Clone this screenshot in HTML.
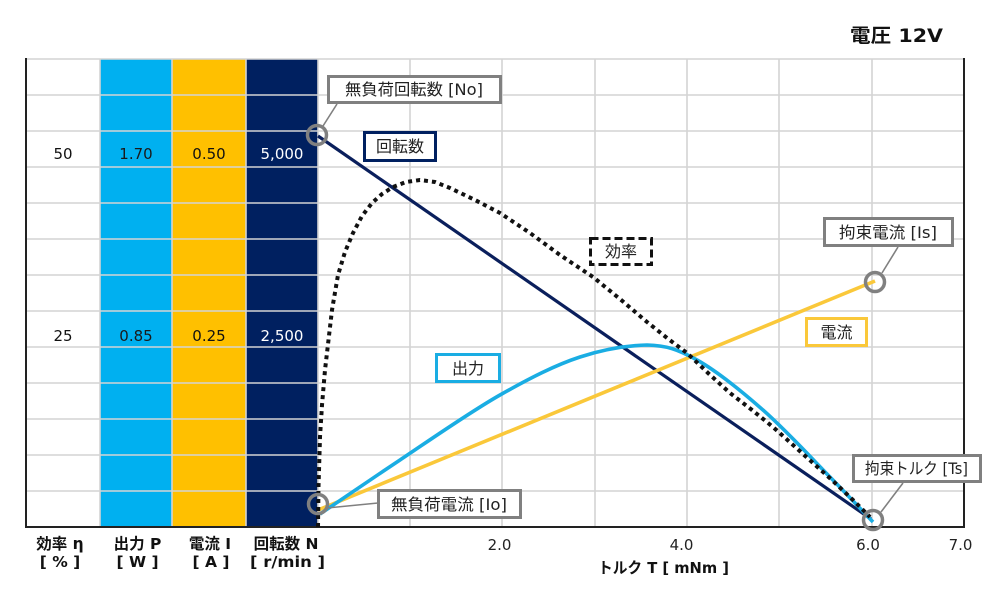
<!DOCTYPE html>
<html>
<head>
<meta charset="utf-8">
<style>
  html,body{margin:0;padding:0;background:#fff;}
  svg{display:block;}
  .num{font-family:"DejaVu Sans","Liberation Sans",sans-serif;font-size:15px;text-anchor:middle;}
  .jp{font-family:"DejaVu Sans","Noto Sans CJK JP",sans-serif;font-size:16px;text-anchor:middle;fill:#222;}
  .bl{font-family:"DejaVu Sans","Noto Sans CJK JP",sans-serif;font-size:15.5px;font-weight:bold;text-anchor:middle;fill:#111;}
</style>
</head>
<body>
<svg width="1000" height="602" viewBox="0 0 1000 602" xmlns="http://www.w3.org/2000/svg">
  <rect x="0" y="0" width="1000" height="602" fill="#fff"/>

  <!-- colored columns -->
  <rect x="100" y="59" width="72" height="468" fill="#00B0F0"/>
  <rect x="172" y="59" width="74" height="468" fill="#FFC000"/>
  <rect x="246" y="59" width="72" height="468" fill="#002060"/>

  <!-- horizontal gridlines -->
  <g stroke="#D4D4D4" stroke-width="1.6">
    <line x1="26" y1="59" x2="964" y2="59"/>
    <line x1="26" y1="95" x2="964" y2="95"/>
    <line x1="26" y1="131" x2="964" y2="131"/>
    <line x1="26" y1="167" x2="964" y2="167"/>
    <line x1="26" y1="203" x2="964" y2="203"/>
    <line x1="26" y1="239" x2="964" y2="239"/>
    <line x1="26" y1="275" x2="964" y2="275"/>
    <line x1="26" y1="311" x2="964" y2="311"/>
    <line x1="26" y1="347" x2="964" y2="347"/>
    <line x1="26" y1="383" x2="964" y2="383"/>
    <line x1="26" y1="419" x2="964" y2="419"/>
    <line x1="26" y1="455" x2="964" y2="455"/>
    <line x1="26" y1="491" x2="964" y2="491"/>
  </g>
  <!-- vertical gridlines -->
  <g stroke="#D4D4D4" stroke-width="1.6">
    <line x1="100" y1="59" x2="100" y2="527"/>
    <line x1="172" y1="59" x2="172" y2="527"/>
    <line x1="246" y1="59" x2="246" y2="527"/>
    <line x1="318" y1="59" x2="318" y2="527"/>
    <line x1="410" y1="59" x2="410" y2="527"/>
    <line x1="502" y1="59" x2="502" y2="527"/>
    <line x1="595" y1="59" x2="595" y2="527"/>
    <line x1="687" y1="59" x2="687" y2="527"/>
    <line x1="779" y1="59" x2="779" y2="527"/>
    <line x1="872" y1="59" x2="872" y2="527"/>
  </g>

  <!-- axes -->
  <line x1="26" y1="58" x2="26" y2="528" stroke="#222" stroke-width="2"/>
  <line x1="25" y1="527" x2="965" y2="527" stroke="#222" stroke-width="2"/>
  <line x1="964" y1="58" x2="964" y2="528" stroke="#222" stroke-width="2"/>

  <!-- column values -->
  <text class="num" x="63" y="159" fill="#111">50</text>
  <text class="num" x="136" y="159" fill="#1a1a1a">1.70</text>
  <text class="num" x="209" y="159" fill="#111">0.50</text>
  <text class="num" x="282" y="159" fill="#fff">5,000</text>
  <text class="num" x="63" y="341" fill="#111">25</text>
  <text class="num" x="136" y="341" fill="#1a1a1a">0.85</text>
  <text class="num" x="209" y="341" fill="#111">0.25</text>
  <text class="num" x="282" y="341" fill="#fff">2,500</text>

  <!-- curves -->
  <line x1="318" y1="136" x2="871" y2="519" stroke="#0A1F5C" stroke-width="3.2"/>
  <line x1="318" y1="510" x2="875" y2="281" stroke="#FAC83A" stroke-width="3.6"/>
  <path d="M320,514 C333,505 370,480 400,460 C430,440 470,412 500,395 C530,378 555.5,365 580,357 C604.5,349 627.5,345.5 647,345 C666.5,345.5 677.7,349.2 697,360 C716.3,370.8 740.8,390.5 763,410 C785.2,429.5 811.7,458.3 830,477 C848.3,495.7 865.8,514.5 873,522"
        fill="none" stroke="#1AADE3" stroke-width="3.6"/>
  <polyline fill="none" stroke="#111" stroke-width="4" stroke-dasharray="4 4" stroke-linejoin="round"
    points="318,527 318.5,487 320,437 322,405 325,370 332,310 338,275 345,252 353,233 362,216 372,203 382,194 393,187 406,182 420,180 435,182 450,188 475,200 500,213 530,233 560,255 593,277 620,299 647,322 667,338 687,353 708,373 730,393 752,410 773,427 793,445 813,463 833,481 853,500 870,517"/>

  <!-- circles -->
  <g fill="none" stroke="#808080" stroke-width="3.5">
    <circle cx="317" cy="135" r="9.5"/>
    <circle cx="318" cy="504" r="9.5"/>
    <circle cx="875" cy="282" r="9.5"/>
    <circle cx="873" cy="520" r="9.5"/>
  </g>
  <!-- connectors -->
  <g stroke="#808080" stroke-width="1.6">
    <line x1="323" y1="126" x2="337" y2="104"/>
    <line x1="327" y1="508" x2="378" y2="503"/>
    <line x1="882" y1="273" x2="898" y2="247"/>
    <line x1="881" y1="512" x2="903" y2="483"/>
  </g>

  <!-- boxes -->
  <g fill="#fff" stroke="#808080" stroke-width="3">
    <rect x="328.5" y="76.5" width="172" height="26"/>
    <rect x="378.5" y="490.5" width="142" height="27"/>
    <rect x="824.5" y="218.5" width="128" height="27"/>
    <rect x="853.5" y="455.5" width="127" height="26"/>
  </g>
  <rect x="364.5" y="132.5" width="71" height="28" fill="#fff" stroke="#002060" stroke-width="3"/>
  <rect x="590.5" y="238.5" width="61" height="26" fill="#fff" stroke="#111" stroke-width="3" stroke-dasharray="8 4"/>
  <rect x="806.5" y="318.5" width="60" height="27" fill="#fff" stroke="#FAC83A" stroke-width="3"/>
  <rect x="436.5" y="354.5" width="63" height="27" fill="#fff" stroke="#1AADE3" stroke-width="3"/>

  <!-- box labels -->
  <text class="jp" x="414" y="95" textLength="138" lengthAdjust="spacingAndGlyphs">無負荷回転数 [No]</text>
  <text class="jp" x="400" y="152">回転数</text>
  <text class="jp" x="621" y="257">効率</text>
  <text class="jp" x="888" y="238" textLength="98" lengthAdjust="spacingAndGlyphs">拘束電流 [Is]</text>
  <text class="jp" x="836.5" y="338">電流</text>
  <text class="jp" x="468" y="374">出力</text>
  <text class="jp" x="449" y="510" textLength="116" lengthAdjust="spacingAndGlyphs">無負荷電流 [Io]</text>
  <text class="jp" x="916.5" y="474" textLength="103" lengthAdjust="spacingAndGlyphs">拘束トルク [Ts]</text>

  <!-- title -->
  <text x="896.5" y="42" text-anchor="middle" font-family="DejaVu Sans, Noto Sans CJK JP, sans-serif" font-size="19" font-weight="bold" fill="#111" textLength="93" lengthAdjust="spacingAndGlyphs">電圧 12V</text>

  <!-- bottom labels -->
  <text class="bl" x="60" y="549">効率 η</text>
  <text class="bl" x="60" y="567">[ % ]</text>
  <text class="bl" x="137.5" y="549">出力 P</text>
  <text class="bl" x="137.5" y="567">[ W ]</text>
  <text class="bl" x="210" y="549">電流 I</text>
  <text class="bl" x="211" y="567">[ A ]</text>
  <text class="bl" x="286" y="549">回転数 N</text>
  <text class="bl" x="287.5" y="567" textLength="75" lengthAdjust="spacingAndGlyphs">[ r/min ]</text>

  <!-- tick labels -->
  <text class="num" x="499.5" y="550" fill="#222">2.0</text>
  <text class="num" x="681.5" y="550" fill="#222">4.0</text>
  <text class="num" x="868" y="550" fill="#222">6.0</text>
  <text class="num" x="960.5" y="550" fill="#222">7.0</text>

  <text class="bl" x="663.5" y="573" textLength="131" lengthAdjust="spacingAndGlyphs">トルク T [ mNm ]</text>
</svg>
</body>
</html>
